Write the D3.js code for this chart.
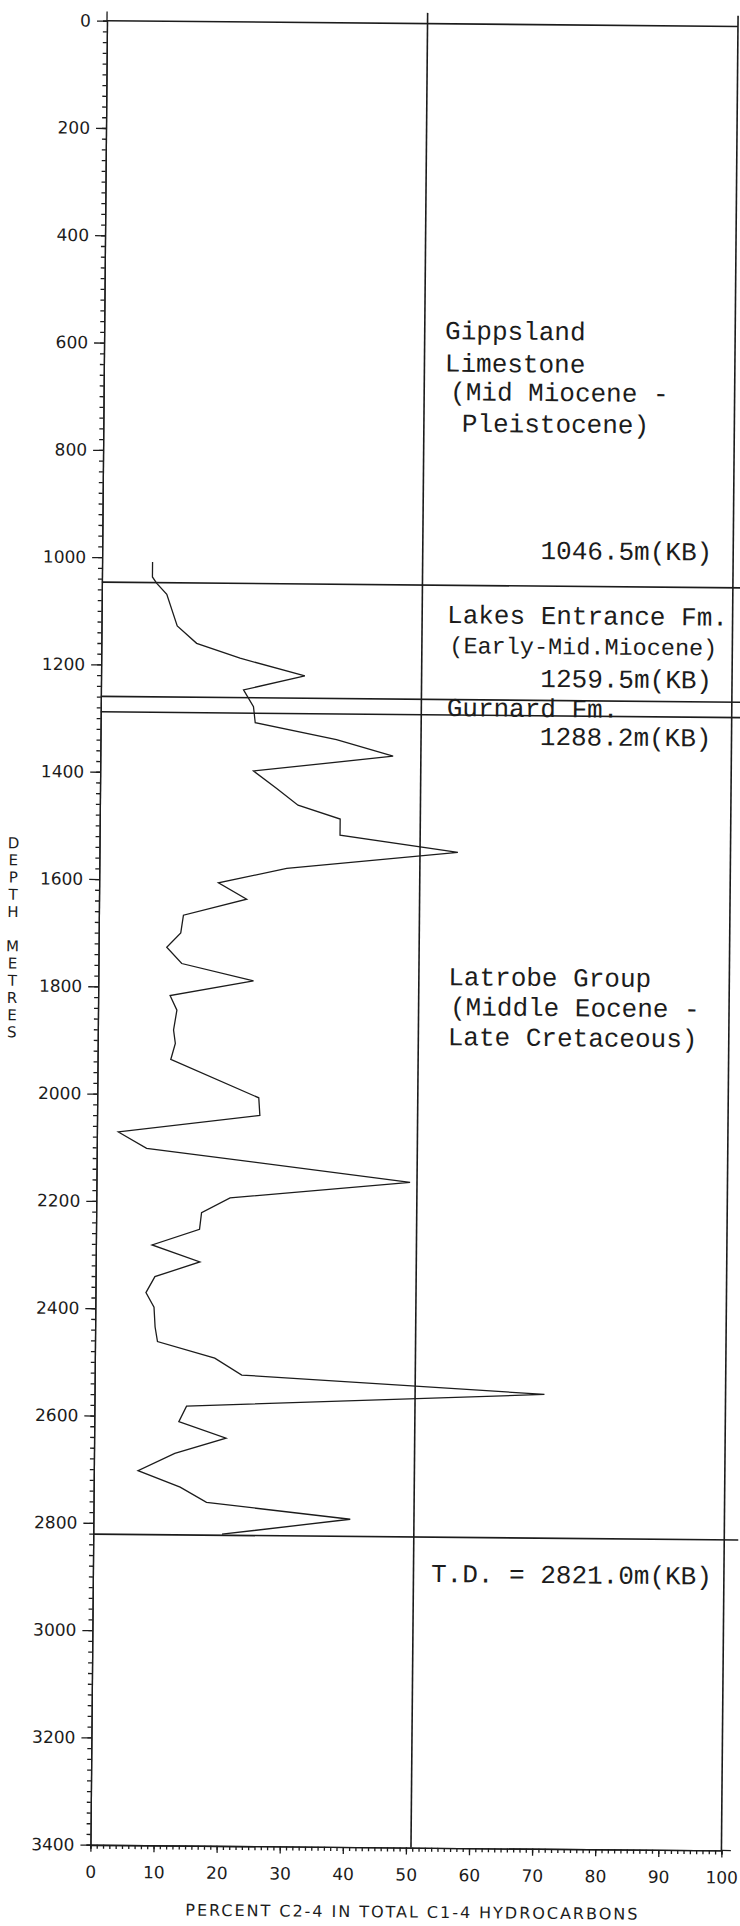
<!DOCTYPE html>
<html>
<head>
<meta charset="utf-8">
<title>Percent C2-4 in total C1-4 hydrocarbons</title>
<script src="https://cdn.jsdelivr.net/npm/d3@7"></script>
<style>
	body { margin: 0; background: #fff; }
	svg { display: block; }
</style>
</head>
<body>
<div id="chart-area"></div>
<script>

//**************** Data *****************//

// depth (m) and percent C2-4
let depths = [1008, 1036, 1048, 1068, 1127, 1159, 1186, 1218, 1245, 1276,
	1306, 1336, 1366, 1396, 1428, 1459, 1484, 1514, 1544, 1577,
	1605, 1635, 1666, 1699, 1726, 1756, 1787, 1816, 1843, 1880,
	1905, 1935, 2005, 2038, 2071, 2101, 2160, 2192, 2220, 2251,
	2281, 2312, 2340, 2370, 2397, 2434, 2461, 2491, 2522, 2553,
	2581, 2610, 2640, 2669, 2702, 2732, 2760, 2789, 2819];

let percents = [8.0, 8.0, 8.7, 10.3, 12.0, 15.1, 22.0, 32.3, 22.6, 24.2,
	24.5, 37.4, 46.4, 24.3, 28.0, 31.4, 38.1, 38.1, 56.8, 29.7,
	18.9, 23.4, 13.4, 13.0, 10.8, 13.2, 24.6, 11.4, 12.5, 12.0,
	12.3, 11.6, 25.6, 25.8, 3.4, 7.9, 49.7, 21.2, 16.7, 16.4,
	8.9, 16.5, 9.4, 8.0, 9.3, 9.5, 9.9, 19.0, 23.3, 71.3,
	14.6, 13.4, 20.9, 12.8, 7.0, 13.7, 17.9, 40.7, 20.4];

// formation tops (m KB)
let formationTops = [1046.5, 1259.5, 1288.2, 2821.0];

// column divider sits a hair right of the 50 tick on the original
let dividerPct = 50.8;

let depthTicks = d3.range(0, 3401, 200);
let depthMinorTicks = d3.range(0, 3401, 20);
let pctTicks = d3.range(0, 101, 10);
let pctMinorTicks = d3.range(0, 101, 1);

let xTitle = 'PERCENT C2-4 IN TOTAL C1-4 HYDROCARBONS';
let yTitle = 'DEPTH METRES';


//**************** Canvas *****************//

let svg = d3.select('#chart-area').append('svg')
	.attr('width', 740)
	.attr('height', 1926);

// the scan is tilted by about half a degree
let g = svg.append('g')
	.attr('transform', 'rotate(0.52, 107, 20.7)');

let ink = '#1c1c1c';


//**************** Scales & Axes *****************//

let x = d3.scaleLinear()
	.domain([0, 100])
	.range([107, 738]);

let y = d3.scaleLinear()
	.domain([0, 3400])
	.range([20.7, 20.7 + 3400 * 0.5365]);

// Y axis (minor + major)
let yMinor = g.append('g')
	.attr('transform', 'translate(' + x(0) + ',0)')
	.call(d3.axisLeft(y).tickValues(depthMinorTicks).tickSize(4).tickFormat(''));

let yAxisGroup = g.append('g')
	.attr('class', 'y-axis')
	.attr('transform', 'translate(' + x(0) + ',0)')
	.call(d3.axisLeft(y)
		.tickValues(depthTicks)
		.tickFormat(d3.format('d'))
		.tickSize(10)
		.tickPadding(6)
		.tickSizeOuter(0));

// X axis (minor + major)
let xMinor = g.append('g')
	.attr('transform', 'translate(0,' + y(3400) + ')')
	.call(d3.axisBottom(x).tickValues(pctMinorTicks).tickSize(4).tickFormat(''));

let xAxisGroup = g.append('g')
	.attr('class', 'x-axis')
	.attr('transform', 'translate(0,' + y(3400) + ')')
	.call(d3.axisBottom(x)
		.tickValues(pctTicks)
		.tickFormat(d3.format('d'))
		.tickSize(7)
		.tickPadding(14)
		.tickSizeOuter(0));

g.selectAll('.domain, .tick line')
	.attr('stroke', ink)
	.attr('stroke-width', 1.3);

g.selectAll('.tick text')
	.attr('fill', ink)
	.attr('font-family', '"DejaVu Sans", sans-serif')
	.attr('font-size', '17px');

// extend axis lines a little past the frame like the plotter did
g.append('line')
	.attr('x1', x(0)).attr('x2', x(0))
	.attr('y1', y(-17)).attr('y2', y(0))
	.attr('stroke', ink).attr('stroke-width', 1.3);

g.append('line')
	.attr('x1', x(100)).attr('x2', x(101.5))
	.attr('y1', y(3400)).attr('y2', y(3400))
	.attr('stroke', ink).attr('stroke-width', 1.3);


//**************** Frame *****************//

// top line at 0 m
g.append('line')
	.attr('x1', x(0)).attr('x2', x(100))
	.attr('y1', y(0)).attr('y2', y(0))
	.attr('stroke', ink).attr('stroke-width', 1.6);

// divider and right border
[dividerPct, 100].forEach(p => {
	g.append('line')
		.attr('x1', x(p)).attr('x2', x(p))
		.attr('y1', y(-20)).attr('y2', y(3400))
		.attr('stroke', ink).attr('stroke-width', 1.6);
});

// formation tops
g.selectAll('.top-line')
	.data(formationTops)
	.enter()
	.append('line')
		.attr('class', 'top-line')
		.attr('x1', x(0))
		.attr('x2', x(100) + 14)
		.attr('y1', d => y(d))
		.attr('y2', d => y(d))
		.attr('stroke', ink)
		.attr('stroke-width', 1.6);


//**************** Trace *****************//

let points = depths.map((d, i) => ({ depth: d, pct: percents[i] }));

let line = d3.line()
	.x(d => x(d.pct))
	.y(d => y(d.depth));

g.append('path')
	.datum(points)
	.attr('fill', 'none')
	.attr('stroke', ink)
	.attr('stroke-width', 1.3)
	.attr('stroke-linejoin', 'miter')
	.attr('d', line);


//**************** Labels *****************//

let typed = g.append('g')
	.attr('font-family', '"Liberation Mono", "DejaVu Sans Mono", monospace')
	.attr('fill', ink);

let typedLabels = [
	{ t: 'Gippsland', x: 448, y: 336, a: 'start' },
	{ t: 'Limestone', x: 448, y: 368.5, a: 'start' },
	{ t: '(Mid Miocene -', x: 453.5, y: 397, a: 'start' },
	{ t: 'Pleistocene)', x: 465.5, y: 428.5, a: 'start' },
	{ t: '1046.5m(KB)', x: 717, y: 555, a: 'end' },
	{ t: 'Lakes Entrance Fm.', x: 452.5, y: 620, a: 'start' },
	{ t: '(Early-Mid.Miocene)', x: 455, y: 650, a: 'start', size: 23.5 },
	{ t: '1259.5m(KB)', x: 718, y: 683, a: 'end' },
	{ t: 'Gurnard Fm.', x: 453, y: 713, a: 'start' },
	{ t: '1288.2m(KB)', x: 718, y: 741, a: 'end' },
	{ t: 'Latrobe Group', x: 457, y: 982, a: 'start' },
	{ t: '(Middle Eocene -', x: 459, y: 1012, a: 'start' },
	{ t: 'Late Cretaceous)', x: 457, y: 1042, a: 'start' },
	{ t: 'T.D. = 2821.0m(KB)', x: 726, y: 1579, a: 'end' }
];

typed.selectAll('text')
	.data(typedLabels)
	.enter()
	.append('text')
		.attr('x', d => d.x)
		.attr('y', d => d.y)
		.attr('text-anchor', d => d.a)
		.attr('font-size', d => (d.size || 26) + 'px')
		.attr('xml:space', 'preserve')
		.text(d => d.t);

// x title
g.append('text')
	.attr('x', (x(0) + x(100)) / 2 + 6)
	.attr('y', y(3400) + 70)
	.attr('font-family', '"DejaVu Sans", sans-serif')
	.attr('font-size', '16px')
	.attr('text-anchor', 'middle')
	.attr('textLength', 452)
	.attr('lengthAdjust', 'spacing')
	.attr('fill', ink)
	.text(xTitle);

// y title, letters stacked upright
g.append('g')
	.attr('font-family', '"DejaVu Sans", sans-serif')
	.attr('font-size', '15px')
	.attr('fill', ink)
	.attr('text-anchor', 'middle')
	.selectAll('text')
	.data(yTitle.split(''))
	.enter()
	.append('text')
		.attr('x', 21)
		.attr('y', (d, i) => 849 + i * 17.2)
		.text(d => d);

</script>
</body>
</html>
